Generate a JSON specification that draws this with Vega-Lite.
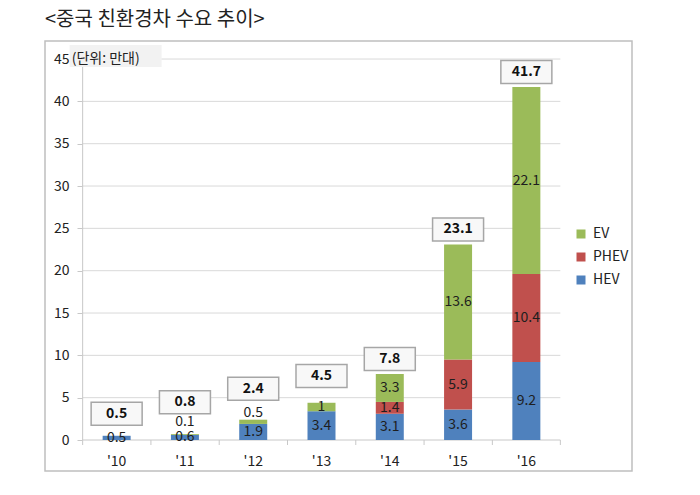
{
  "$schema": "https://vega.github.io/schema/vega-lite/v6.json",
  "width": 587,
  "height": 430,
  "padding": {"left": 45, "right": 68, "top": 10, "bottom": 23},
  "title": {"text": "<중국 친환경차 수요 추이>", "anchor": "start", "fontSize": 20, "fontWeight": "normal", "color": "#222222", "offset": 11},
  "config": {"font": "Noto Sans CJK KR", "view": {"stroke": "#BFBFBF", "strokeWidth": 1.5}},
  "datasets": {
    "seg": [
      {"year": "'10", "series": "HEV", "ord": 1, "value": 0.5},
      {"year": "'11", "series": "HEV", "ord": 1, "value": 0.6},
      {"year": "'11", "series": "EV", "ord": 3, "value": 0.1},
      {"year": "'12", "series": "HEV", "ord": 1, "value": 1.9},
      {"year": "'12", "series": "EV", "ord": 3, "value": 0.5},
      {"year": "'13", "series": "HEV", "ord": 1, "value": 3.4},
      {"year": "'13", "series": "EV", "ord": 3, "value": 1},
      {"year": "'14", "series": "HEV", "ord": 1, "value": 3.1},
      {"year": "'14", "series": "PHEV", "ord": 2, "value": 1.4},
      {"year": "'14", "series": "EV", "ord": 3, "value": 3.3},
      {"year": "'15", "series": "HEV", "ord": 1, "value": 3.6},
      {"year": "'15", "series": "PHEV", "ord": 2, "value": 5.9},
      {"year": "'15", "series": "EV", "ord": 3, "value": 13.6},
      {"year": "'16", "series": "HEV", "ord": 1, "value": 9.2},
      {"year": "'16", "series": "PHEV", "ord": 2, "value": 10.4},
      {"year": "'16", "series": "EV", "ord": 3, "value": 22.1}
    ],
    "tot": [
      {"year": "'10", "total": 0.5},
      {"year": "'11", "total": 0.8},
      {"year": "'12", "total": 2.4},
      {"year": "'13", "total": 4.5},
      {"year": "'14", "total": 7.8},
      {"year": "'15", "total": 23.1},
      {"year": "'16", "total": 41.7}
    ],
    "grid": [{"v": 5}, {"v": 10}, {"v": 15}, {"v": 20}, {"v": 25}, {"v": 30}, {"v": 35}, {"v": 40}, {"v": 45}]
  },
  "layer": [
    {
      "data": {"name": "grid"},
      "mark": {"type": "rule", "color": "#D9D9D9", "strokeWidth": 1, "xOffset": -20, "x2Offset": 20},
      "encoding": {
        "y": {"field": "v", "type": "quantitative"},
        "x": {"datum": "'10", "type": "ordinal", "bandPosition": 0},
        "x2": {"datum": "'16", "bandPosition": 1}
      }
    },
    {
      "data": {"values": [{}]},
      "mark": {"type": "rule", "color": "#C8C8C8", "strokeWidth": 1, "xOffset": -20, "x2Offset": 20},
      "encoding": {
        "y": {"datum": 0, "type": "quantitative"},
        "x": {"datum": "'10", "type": "ordinal", "bandPosition": 0},
        "x2": {"datum": "'16", "bandPosition": 1}
      }
    },
    {
      "data": {"values": [{}]},
      "mark": {"type": "rule", "color": "#C8C8C8", "strokeWidth": 1, "xOffset": -20},
      "encoding": {
        "x": {"datum": "'10", "type": "ordinal", "bandPosition": 0},
        "y": {"datum": 0, "type": "quantitative"},
        "y2": {"datum": 45}
      }
    },
    {
      "data": {"name": "tot"},
      "mark": {"type": "rule", "color": "#C8C8C8", "strokeWidth": 1, "xOffset": -20, "y2Offset": 5},
      "encoding": {
        "x": {"field": "year", "type": "ordinal", "bandPosition": 0},
        "y": {"datum": 0, "type": "quantitative"},
        "y2": {"datum": 0}
      }
    },
    {
      "data": {"values": [{}]},
      "mark": {"type": "rule", "color": "#C8C8C8", "strokeWidth": 1, "xOffset": 20, "y2Offset": 5},
      "encoding": {
        "x": {"datum": "'16", "type": "ordinal", "bandPosition": 1},
        "y": {"datum": 0, "type": "quantitative"},
        "y2": {"datum": 0}
      }
    },
    {
      "data": {"name": "seg"},
      "mark": {"type": "bar"},
      "encoding": {
        "x": {
          "field": "year", "type": "ordinal",
          "scale": {"range": [37.5, 515.5], "paddingInner": 0.59, "paddingOuter": 0.295, "align": 0.5},
          "axis": {"title": null, "domain": false, "offset": -31, "bandPosition": 0.5, "ticks": false, "tickSize": 0, "labelFontSize": 14, "labelColor": "#222222", "labelPadding": 21, "labelAngle": 0, "labelAlign": "center"}
        },
        "y": {
          "field": "value", "type": "quantitative", "stack": "zero",
          "scale": {"domain": [-3.66, 47.13], "nice": false, "zero": false},
          "axis": {"title": null, "values": [0, 5, 10, 15, 20, 25, 30, 35, 40, 45], "grid": false, "domain": false, "offset": -37, "tickSize": 5, "tickColor": "#C8C8C8", "labelFontSize": 14, "labelColor": "#222222", "labelPadding": 8}
        },
        "color": {
          "field": "series", "type": "nominal",
          "scale": {"domain": ["EV", "PHEV", "HEV"], "range": ["#9BBB59", "#C0504D", "#4F81BD"]},
          "legend": {"orient": "none", "legendX": 529, "legendY": 186, "title": null, "symbolType": "square", "symbolSize": 81, "symbolStrokeWidth": 0, "labelFontSize": 14, "labelColor": "#222222", "rowPadding": 9, "labelOffset": 5, "padding": 0}
        },
        "order": {"field": "ord", "type": "quantitative"}
      }
    },
    {
      "data": {"name": "seg"},
      "mark": {"type": "text", "fontSize": 14, "color": "#1E1E1E", "baseline": "middle"},
      "encoding": {
        "x": {"field": "year", "type": "ordinal"},
        "y": {"field": "value", "type": "quantitative", "stack": "zero", "bandPosition": 0.5},
        "detail": {"field": "series"},
        "order": {"field": "ord", "type": "quantitative"},
        "text": {"condition": {"test": "datum.value < 0.55 && datum.year != \"'10\"", "value": ""}, "field": "value", "type": "nominal"}
      }
    },
    {
      "data": {"name": "seg"},
      "mark": {"type": "text", "fontSize": 14, "color": "#1E1E1E", "baseline": "middle", "dy": -12},
      "encoding": {
        "x": {"field": "year", "type": "ordinal"},
        "y": {"field": "value", "type": "quantitative", "stack": "zero"},
        "detail": {"field": "series"},
        "order": {"field": "ord", "type": "quantitative"},
        "text": {"condition": {"test": "datum.value >= 0.55 || datum.year != \"'11\"", "value": ""}, "field": "value", "type": "nominal"}
      }
    },
    {
      "data": {"name": "seg"},
      "mark": {"type": "text", "fontSize": 14, "color": "#1E1E1E", "baseline": "middle", "dy": -7},
      "encoding": {
        "x": {"field": "year", "type": "ordinal"},
        "y": {"field": "value", "type": "quantitative", "stack": "zero"},
        "detail": {"field": "series"},
        "order": {"field": "ord", "type": "quantitative"},
        "text": {"condition": {"test": "datum.value >= 0.55 || datum.year != \"'12\"", "value": ""}, "field": "value", "type": "nominal"}
      }
    },
    {
      "data": {"name": "tot"},
      "transform": [{"filter": "datum.total >= 5"}],
      "layer": [
        {
          "mark": {"type": "point", "shape": "M-1,-0.45H1V0.45H-1Z", "size": 2601, "filled": true, "fill": "#F8F8F8", "stroke": "#A6A6A6", "strokeWidth": 1.5, "opacity": 1, "yOffset": -15},
          "encoding": {"x": {"field": "year", "type": "ordinal"}, "y": {"field": "total", "type": "quantitative"}}
        },
        {
          "mark": {"type": "text", "fontSize": 14, "fontWeight": "bold", "color": "#111111", "baseline": "middle", "dy": -15},
          "encoding": {"x": {"field": "year", "type": "ordinal"}, "y": {"field": "total", "type": "quantitative"}, "text": {"field": "total", "type": "nominal"}}
        }
      ]
    },
    {
      "data": {"name": "tot"},
      "transform": [{"filter": "datum.year == \"'10\""}],
      "layer": [
        {
          "mark": {"type": "point", "shape": "M-1,-0.45H1V0.45H-1Z", "size": 2601, "filled": true, "fill": "#F8F8F8", "stroke": "#A6A6A6", "strokeWidth": 1.5, "opacity": 1, "yOffset": -22},
          "encoding": {"x": {"field": "year", "type": "ordinal"}, "y": {"field": "total", "type": "quantitative"}}
        },
        {
          "mark": {"type": "text", "fontSize": 14, "fontWeight": "bold", "color": "#111111", "baseline": "middle", "dy": -22},
          "encoding": {"x": {"field": "year", "type": "ordinal"}, "y": {"field": "total", "type": "quantitative"}, "text": {"field": "total", "type": "nominal"}}
        }
      ]
    },
    {
      "data": {"name": "tot"},
      "transform": [{"filter": "datum.year == \"'11\" || datum.year == \"'12\""}],
      "layer": [
        {
          "mark": {"type": "point", "shape": "M-1,-0.45H1V0.45H-1Z", "size": 2601, "filled": true, "fill": "#F8F8F8", "stroke": "#A6A6A6", "strokeWidth": 1.5, "opacity": 1, "yOffset": -31},
          "encoding": {"x": {"field": "year", "type": "ordinal"}, "y": {"field": "total", "type": "quantitative"}}
        },
        {
          "mark": {"type": "text", "fontSize": 14, "fontWeight": "bold", "color": "#111111", "baseline": "middle", "dy": -31},
          "encoding": {"x": {"field": "year", "type": "ordinal"}, "y": {"field": "total", "type": "quantitative"}, "text": {"field": "total", "type": "nominal"}}
        }
      ]
    },
    {
      "data": {"name": "tot"},
      "transform": [{"filter": "datum.year == \"'13\""}],
      "layer": [
        {
          "mark": {"type": "point", "shape": "M-1,-0.45H1V0.45H-1Z", "size": 2601, "filled": true, "fill": "#F8F8F8", "stroke": "#A6A6A6", "strokeWidth": 1.5, "opacity": 1, "yOffset": -26},
          "encoding": {"x": {"field": "year", "type": "ordinal"}, "y": {"field": "total", "type": "quantitative"}}
        },
        {
          "mark": {"type": "text", "fontSize": 14, "fontWeight": "bold", "color": "#111111", "baseline": "middle", "dy": -26},
          "encoding": {"x": {"field": "year", "type": "ordinal"}, "y": {"field": "total", "type": "quantitative"}, "text": {"field": "total", "type": "nominal"}}
        }
      ]
    },
    {
      "data": {"values": [{"label": "(단위: 만대)"}]},
      "layer": [
        {
          "mark": {"type": "point", "shape": "M-1,-0.24H1V0.24H-1Z", "size": 8464, "filled": true, "fill": "#F2F2F2", "strokeWidth": 0, "opacity": 1, "xOffset": 13, "yOffset": -3},
          "encoding": {"x": {"datum": "'10", "type": "ordinal", "bandPosition": 0}, "y": {"datum": 45, "type": "quantitative"}}
        },
        {
          "mark": {"type": "text", "fontSize": 14, "color": "#222222", "align": "left", "baseline": "middle", "dx": -31},
          "encoding": {"x": {"datum": "'10", "type": "ordinal", "bandPosition": 0}, "y": {"datum": 45, "type": "quantitative"}, "text": {"field": "label", "type": "nominal"}}
        }
      ]
    }
  ]
}
